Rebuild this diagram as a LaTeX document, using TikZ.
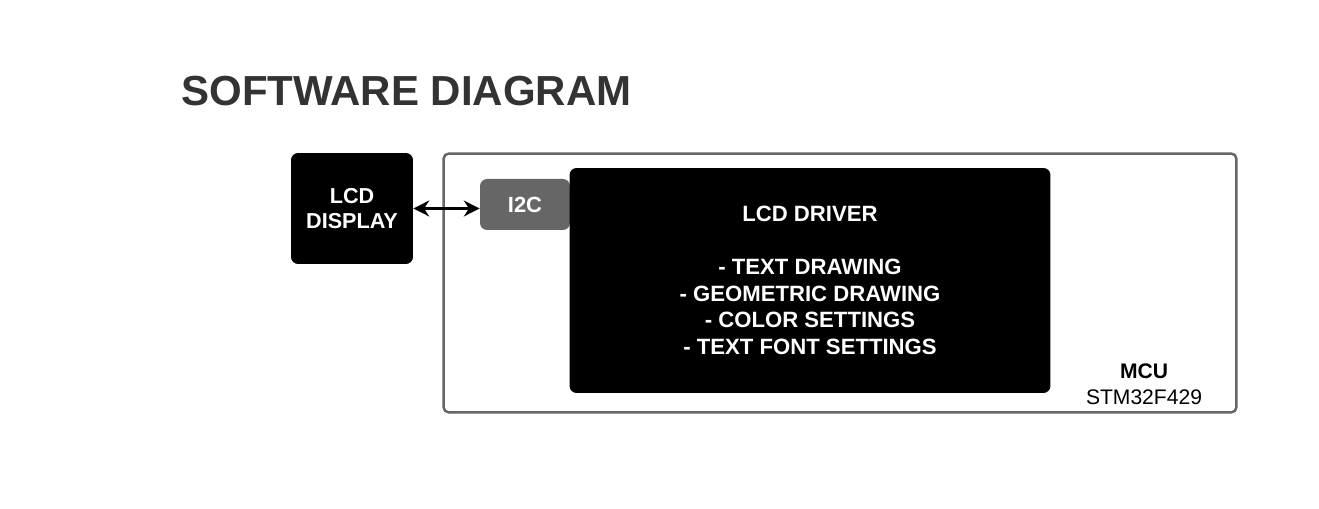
\documentclass[tikz,border=0pt]{standalone}
\usepackage{fontspec}
\setmainfont{Liberation Sans}
\usepackage{xcolor}
\usetikzlibrary{positioning, arrows.meta}

\definecolor{titlegray}{HTML}{333333}
\definecolor{boxgray}{HTML}{666666}

\begin{document}
\begin{tikzpicture}[
                x=0.02cm, y=-0.02cm,
                font=\fontsize{12.5}{15}\selectfont\bfseries,
                link/.style={<->, >={Stealth[length=9pt, width=9pt]}, line width=1.4pt, black},
                dark_box/.style={rectangle, fill=black, rounded corners=4pt, text=white, align=center, inner sep=0pt},
                mcu_box/.style={rectangle, draw=boxgray, line width=1.4pt, rounded corners=3pt, inner sep=0pt},
                port_box/.style={rectangle, fill=boxgray, rounded corners=4pt, text=white, inner sep=0pt}
            ]
                \useasboundingbox (0,0) rectangle (1319,509);

                % Title
                \node[anchor=base west, inner sep=0pt, text=titlegray, font=\fontsize{23.9}{28}\selectfont\bfseries] (title) at (181,106) {SOFTWARE DIAGRAM};

                % LCD display
                \node[dark_box, minimum width=2.44cm, minimum height=2.22cm, font=\fontsize{12.3}{14}\selectfont\bfseries] (lcd) at (352,208.5) {LCD\\DISPLAY};

                % MCU
                \node[mcu_box, minimum width=15.86cm, minimum height=5.18cm] (mcu) at (840,283) {};
                \node[align=center, font=\fontsize{12}{14.8}\selectfont] (mcuname) at (1144,384) {\textbf{MCU}\\STM32F429};

                % I2C and driver
                \node[port_box, minimum width=1.8cm, minimum height=1.02cm] (i2c) at (525,204.5) {I2C};
                \node[dark_box, minimum width=9.62cm, minimum height=4.5cm, font=\fontsize{12.6}{15.1}\selectfont\bfseries] (driver) at (810,280.5)
                    {LCD DRIVER\\[15.1pt]- TEXT DRAWING\\- GEOMETRIC DRAWING\\- COLOR SETTINGS\\- TEXT FONT SETTINGS};

                % Link
                \draw[link] (lcd.east) -- (lcd.east -| i2c.west);

            \end{tikzpicture}
\end{document}
